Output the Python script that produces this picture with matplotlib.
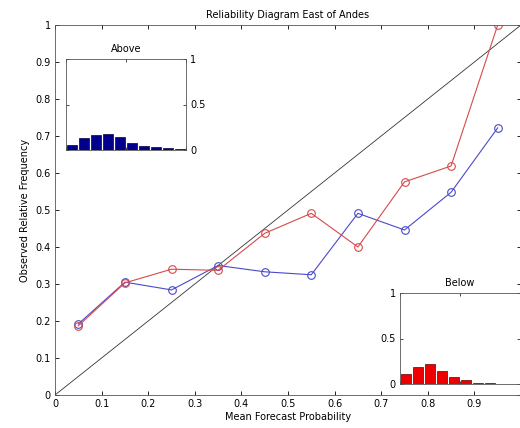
import numpy as np
import matplotlib
matplotlib.use('Agg')
import matplotlib.pyplot as plt

# forecast probability bins
probBins = [0.05, 0.15, 0.25, 0.35, 0.45, 0.55, 0.65, 0.75, 0.85, 0.95]

# observed relative frequency
obsBelow = [0.187, 0.303, 0.340, 0.337, 0.437, 0.491, 0.400, 0.576, 0.619, 1.000]
obsAbove = [0.192, 0.305, 0.284, 0.350, 0.333, 0.325, 0.491, 0.446, 0.548, 0.722]

# forecast frequency histograms (insets)
histAbove = [0.055, 0.128, 0.165, 0.176, 0.140, 0.074, 0.044, 0.033, 0.018, 0.014]
histBelow = [0.110, 0.183, 0.215, 0.146, 0.073, 0.040, 0.014, 0.010, 0.004, 0.003]

W, H = 520, 428
fig = plt.figure(figsize=(W/100, H/100), dpi=100)
plt.rcParams['font.size'] = 7

# MAIN AXES (right edge slightly past the image edge, as in the reference)
ax = fig.add_axes([55/W, 33/H, 466/W, 370/H])
ax.plot([0, 1], [0, 1], color='#333333', lw=0.6)
ax.plot(probBins, obsAbove, '-o', color='#4a4ac8', lw=0.8, ms=5.5, mfc='none', mew=0.8)
ax.plot(probBins, obsBelow, '-o', color='#d84a4a', lw=0.8, ms=5.5, mfc='none', mew=0.8)
ax.set_xlim(0, 1)
ax.set_ylim(0, 1)
ax.set_xticks(np.arange(0, 1.0, 0.1))
ax.set_xticklabels(['0', '0.1', '0.2', '0.3', '0.4', '0.5', '0.6', '0.7', '0.8', '0.9'])
ax.set_yticks(np.arange(0, 1.01, 0.1))
ax.set_yticklabels(['0', '0.1', '0.2', '0.3', '0.4', '0.5', '0.6', '0.7', '0.8', '0.9', '1'])
ax.tick_params(direction='in', top=True, right=True, length=3, width=0.6, pad=3, labelsize=7)
for s in ax.spines.values():
    s.set_linewidth(0.6)
    s.set_color('#555555')
ax.set_title('Reliability Diagram East of Andes', fontsize=7, pad=5)
ax.set_xlabel('Mean Forecast Probability', fontsize=7, labelpad=2)
ax.set_ylabel('Observed Relative Frequency', fontsize=7, labelpad=4)

# INSET - ABOVE
axA = fig.add_axes([66/W, (H-150)/H, 120/W, 91/H])
axA.bar(probBins, histAbove, width=0.088, color='#00008c', edgecolor='#000040', lw=0.5)
axA.set_xlim(0, 1)
axA.set_ylim(0, 1)
axA.set_xticks([0, 0.5, 1])
axA.set_xticklabels([])
axA.set_yticks([0, 0.5, 1])
axA.set_yticklabels(['0', '0.5', '1'])
axA.yaxis.tick_right()
axA.tick_params(direction='in', top=True, left=True, right=True, length=2, width=0.5, pad=3, labelsize=7)
for s in axA.spines.values():
    s.set_linewidth(0.6)
    s.set_color('#555555')
axA.set_title('Above', fontsize=7, pad=5)

# INSET - BELOW (cropped on the right, like the reference)
axB = fig.add_axes([400/W, (H-384)/H, 120/W, 91/H])
axB.bar(probBins, histBelow, width=0.088, color='#ee0000', edgecolor='#600000', lw=0.5)
axB.set_xlim(0, 1)
axB.set_ylim(0, 1)
axB.set_xticks([0, 0.5, 1])
axB.set_xticklabels([])
axB.set_yticks([0, 0.5, 1])
axB.set_yticklabels(['0', '0.5', '1'])
axB.tick_params(direction='in', top=True, right=True, length=2, width=0.5, pad=3, labelsize=7)
for s in axB.spines.values():
    s.set_linewidth(0.6)
    s.set_color('#555555')
axB.set_title('Below', fontsize=7, pad=5)

fig.savefig('out.png', dpi=100)
